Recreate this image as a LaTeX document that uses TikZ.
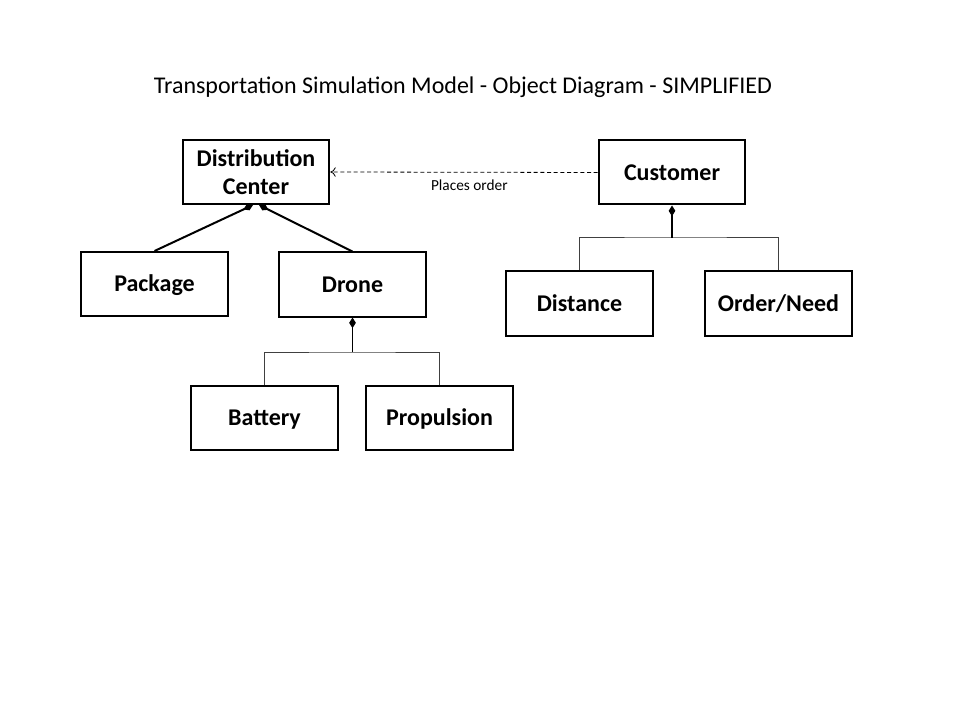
\documentclass[tikz,border=0pt]{standalone}
\usepackage{fontspec}
\setmainfont{Carlito}
\usetikzlibrary{arrows.meta, positioning}

\begin{document}
\begin{tikzpicture}[
    x=0.75pt, y=-0.75pt,
    obj/.style={rectangle, draw, line width=1.5pt, minimum width=110pt, minimum height=48pt,
        align=center, font=\fontsize{18}{21}\selectfont\bfseries},
    part/.style={obj, text height=11.5pt, text depth=0pt},
    own/.style={-{Diamond[length=8pt, width=5pt]}},
    bus/.style={draw=black!75, line width=0.75pt},
    dep/.style={dash pattern=on 3pt off 2pt, line width=0.6pt, -{To[length=4pt, width=7pt]}},
]
    \useasboundingbox (0,0) rectangle (960,720);

    \node[font=\fontsize{18}{21}\selectfont] (title) at (463,87)
        {Transportation Simulation Model - Object Diagram - SIMPLIFIED};

    \node[obj]  (DC)  at (256,172)   {Distribution\\Center};
    \node[part] (Cus) at (672,172.5) {Customer};
    \node[part] (Pkg) at (154.5,284) {Package};
    \node[part] (Dro) at (352.5,284.5) {Drone};
    \node[part] (Dis) at (579.5,303.5) {Distance};
    \node[part] (Ord) at (778.5,303.5) {Order/Need};
    \node[part] (Bat) at (264.5,418) {Battery};
    \node[part] (Pro) at (439.5,418) {Propulsion};

    \coordinate (dcL) at (253,205);
    \coordinate (dcR) at (259,205);
    \coordinate (cusbus) at (672,238);
    \coordinate (drobus) at (352.5,352);

    % parts of the distribution center
    \draw[own, line width=1.5pt] (Pkg.north) -- (dcL);
    \draw[own, line width=1.5pt] (Dro.north) -- (dcR);

    % parts of customer and drone
    \draw[bus] (Dis.north) |- (cusbus) -| (Ord.north);
    \draw[own, line width=0.9pt] (cusbus) -- (Cus.south);
    \draw[bus] (Bat.north) |- (drobus) -| (Pro.north);
    \draw[own, line width=0.9pt] (drobus) -- (Dro.south);

    \draw[dep] (Cus.west) -- node[pos=0.48, below=2pt, font=\fontsize{11.5}{13}\selectfont] (po) {Places order} (DC.east);
\end{tikzpicture}
\end{document}
